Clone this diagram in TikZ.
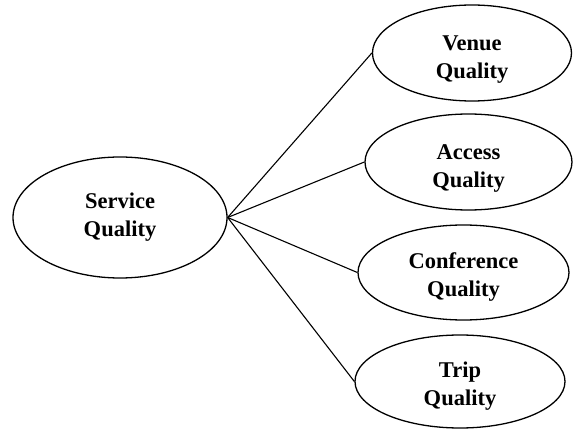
\documentclass[tikz,border=0pt]{standalone}
\usepackage{fontspec}
\setmainfont{Liberation Serif}
\usetikzlibrary{shapes.geometric}
\begin{document}
\begin{tikzpicture}[x=1pt,y=-1pt,
  dim/.style={draw=black,line width=1.3pt,ellipse,inner sep=0pt},
  lbl/.style={inner sep=0pt,align=center,
    font=\fontsize{22.5}{28}\selectfont\bfseries},
  link/.style={draw=black,line width=1.1pt}]
\useasboundingbox (0,0) rectangle (573,430);
% central construct
\node[dim,minimum width=214pt,minimum height=121pt] (s) at (120,217.5) {};
\node[lbl] (s-txt) at (s.center) {Service\\Quality};
% dimensions
\node[dim,minimum width=199pt,minimum height=96pt] (v) at (472,53) {};
\node[lbl] (v-txt) at ([yshift=-7pt]v.center) {Venue\\Quality};
\node[dim,minimum width=207pt,minimum height=96pt] (a) at (468.5,162) {};
\node[lbl] (a-txt) at ([yshift=-7pt]a.center) {Access\\Quality};
\node[dim,minimum width=211pt,minimum height=95pt] (c) at (463.5,272.5) {};
\node[lbl] (c-txt) at ([yshift=-5pt]c.center) {Conference\\Quality};
\node[dim,minimum width=210pt,minimum height=93pt] (t) at (460,381.5) {};
\node[lbl] (t-txt) at ([yshift=-5pt]t.center) {Trip\\Quality};
% connectors
\draw[link] (s.east) -- (v.west);
\draw[link] (s.east) -- (a.west);
\draw[link] (s.east) -- (c.west);
\draw[link] (s.east) -- (t.west);
\end{tikzpicture}
\end{document}
